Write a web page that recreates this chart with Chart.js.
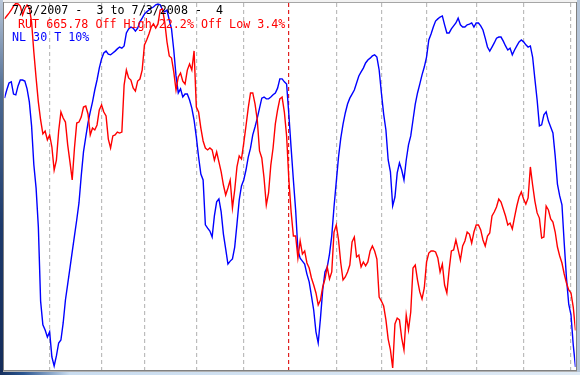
<!DOCTYPE html>
<html><head><meta charset="utf-8">
<script src="https://cdn.jsdelivr.net/npm/chart.js@4/dist/chart.umd.min.js"></script>
<style>
html,body{margin:0;padding:0;background:#fff;}
#wrap{position:relative;width:580px;height:375px;overflow:hidden;}
canvas{position:absolute;left:0;top:0;}
.lbl{position:absolute;font-family:"DejaVu Sans Mono",monospace;font-size:11.7px;line-height:13px;white-space:pre;}
</style></head><body>
<div id="wrap">
<canvas id="c" width="580" height="375"></canvas>
<div class="lbl" style="left:12px;top:4px;color:#000">7/3/2007 -  3 to 7/3/2008 -  4</div>
<div class="lbl" style="left:18px;top:17.5px;color:#ff0000">RUT 665.78 Off High 22.2% Off Low 3.4%</div>
<div class="lbl" style="left:12px;top:31px;color:#0000ff">NL 30 T 10%</div>
</div>
<script>
// trading-day index from 7/3/2007 (0) to 7/3/2008 (253)
const days = Array.from({length: 254}, (_, i) => i);
// first trading day of each month (Aug 2007 ... Jul 2008); Jan 2 2008 marks the new year
const monthStarts = [20, 43, 62, 85, 106, 126, 147, 167, 187, 209, 230, 251];
const yearStart = 126;

// Russell 2000 (RUT) daily close
const rut = [846.8,848.5,850.2,852.0,854.3,855.8,855.5,854.3,849.1,852.6,
854.9,853.2,845.0,827.6,812.5,798.5,788.1,780.0,781.7,776.5,
779.4,772.4,759.0,764.8,781.7,792.7,789.2,786.9,773.6,763.7,
753.2,771.8,786.3,786.9,789.8,795.6,796.2,791.6,779.4,783.4,
782.3,785.2,793.9,796.8,792.7,790.4,777.0,771.8,778.8,779.4,
781.1,780.5,781.1,808.4,817.1,812.5,811.3,806.7,804.9,810.7,
811.9,817.1,831.7,834.6,838.0,842.1,843.9,841.5,843.9,852.0,
852.6,845.0,833.4,825.3,824.1,816.0,805.5,813.1,815.4,810.7,
809.0,817.1,820.6,817.1,828.2,795.6,792.7,783.4,775.9,771.8,
770.7,771.8,770.7,764.8,769.5,763.7,757.9,750.3,744.5,748.6,
753.2,737.0,747.4,760.8,767.2,765.4,774.7,784.6,795.1,803.8,
803.8,797.4,788.1,770.1,766.0,754.4,738.7,745.7,761.9,771.8,
785.8,793.9,800.3,801.4,792.7,778.8,753.2,734.6,720.7,720.7,
707.9,717.8,710.2,712.0,705.0,702.1,696.3,692.2,687.6,680.6,
683.5,691.1,695.7,702.7,695.7,699.8,723.0,727.1,718.4,705.0,
695.1,696.9,699.8,703.8,717.2,720.1,708.5,709.6,702.7,705.6,
703.3,705.6,712.0,714.9,712.0,707.3,685.2,682.9,680.0,671.9,
660.8,654.5,643.97,669.6,673.0,671.9,661.4,654.5,674.8,666.1,
676.5,702.1,703.8,695.1,688.2,684.1,690.5,705.6,710.8,712.0,
712.0,711.4,707.9,699.8,704.4,692.2,687.6,700.9,712.0,712.6,
718.4,712.6,706.7,714.9,717.8,723.0,721.8,716.6,723.0,727.1,
727.1,724.2,718.4,714.9,720.7,722.4,732.3,734.6,737.5,742.2,
740.4,736.4,732.3,727.1,728.2,724.8,731.7,738.1,743.3,746.3,
742.2,739.2,742.8,760.8,750.3,741.0,734.1,731.1,719.5,720.1,
738.1,735.8,730.6,728.8,723.0,714.3,709.1,705.0,698.6,693.4,
689.3,687.6,679.4,665.78];

// NL 30 T 10% indicator
const nl = [73.4,75.6,77.5,77.8,74.5,74.3,76.7,78.3,78.3,78.0,
75.9,72.4,65.9,55.4,49.1,38.6,18.6,12.2,10.8,8.9,
10.3,3.5,1.1,3.8,7.3,8.1,12.7,18.9,23.2,27.5,
31.9,36.2,40.5,45.1,52.4,58.9,62.9,66.7,69.7,72.4,
75.6,78.3,81.5,84.0,85.6,86.1,85.3,85.1,85.6,86.1,
86.7,87.2,86.9,87.5,91.0,92.1,92.6,92.3,91.5,92.3,
94.0,95.0,96.1,96.7,97.2,97.7,98.0,98.6,98.8,98.6,
97.2,96.7,97.2,94.5,92.1,86.4,79.4,74.8,75.9,73.7,
74.5,74.5,72.9,70.7,67.5,62.9,57.5,52.9,51.3,39.2,
38.3,37.5,35.9,41.6,45.4,46.2,42.7,36.7,32.7,28.6,
29.4,30.0,33.2,39.4,45.9,49.7,51.3,54.0,57.5,59.9,
63.5,65.6,68.0,70.7,73.4,73.7,73.2,73.2,73.7,74.3,
74.8,76.1,78.6,78.6,77.8,77.2,68.9,59.9,51.3,43.2,
32.4,30.2,29.4,28.6,25.9,23.8,20.0,16.2,10.3,7.3,
14.0,21.6,26.5,27.8,31.3,36.2,44.0,50.8,57.5,62.6,
66.4,69.4,71.8,73.4,74.5,75.6,77.5,79.4,80.5,81.5,
82.9,83.7,84.2,84.8,85.1,84.5,81.0,74.8,69.1,64.8,
56.7,53.5,44.3,46.7,53.2,55.9,54.0,51.3,56.7,60.8,
63.2,67.5,71.8,74.8,77.2,79.7,81.8,84.5,89.1,90.7,
92.6,94.2,94.8,95.3,95.6,93.2,91.0,91.0,92.1,92.9,
93.7,95.0,93.2,92.6,92.6,93.2,93.4,93.7,92.6,93.7,
93.7,92.9,91.8,89.6,87.2,86.1,87.2,88.3,89.6,89.9,
89.9,88.8,87.5,86.4,86.9,85.1,86.4,87.5,88.6,89.1,
88.6,87.8,87.2,87.5,84.5,78.6,72.9,65.9,66.2,68.9,
69.7,67.2,65.6,64.0,57.8,50.2,47.0,44.6,34.3,24.8,
17.8,14.9,6.8,0.8];

const framePlugin = {
  id: 'frame',
  beforeDraw(chart) {
    const c = chart.ctx;
    c.save(); c.fillStyle = '#ffffff'; c.fillRect(0, 0, chart.width, chart.height); c.restore();
  },
  afterDraw(chart) {
    const c = chart.ctx, W = chart.width, H = chart.height;
    c.save();
    c.fillStyle = '#f2f2f2'; c.fillRect(0, 0, W, 2);
    c.fillStyle = '#a6a6a6'; c.fillRect(3, 2, W - 6, 1);
    const g = c.createLinearGradient(0, 0, 0, H);
    g.addColorStop(0, '#b8c6d8'); g.addColorStop(0.25, '#4d6a92');
    g.addColorStop(0.6, '#1d3a6c'); g.addColorStop(1, '#142c5a');
    c.fillStyle = g; c.fillRect(0, 0, 3, H);
    c.fillStyle = '#808080'; c.fillRect(3, 2, 1, 370);
    c.fillStyle = '#808080'; c.fillRect(576, 2, 1, 370);
    c.fillStyle = '#b4c4d8'; c.fillRect(577, 0, 3, H);
    c.fillStyle = '#808080'; c.fillRect(3, 370, 574, 1);
    c.fillStyle = '#b0b0b0'; c.fillRect(3, 371, 574, 1);
    const g2 = c.createLinearGradient(0, 0, W, 0);
    g2.addColorStop(0, '#16305e'); g2.addColorStop(0.04, '#2a5590');
    g2.addColorStop(0.12, '#c9dcef'); g2.addColorStop(1, '#dfeaf5');
    c.fillStyle = g2; c.fillRect(0, 372, W, 3);
    c.restore();
  }
};

new Chart(document.getElementById('c'), {
  type: 'line',
  data: {
    labels: days,
    datasets: [
      {label: 'RUT', data: rut, yAxisID: 'yRut', borderColor: '#ff0000', borderWidth: 1.4, pointRadius: 0, tension: 0},
      {label: 'NL 30 T 10%', data: nl, yAxisID: 'yNl', borderColor: '#0000ff', borderWidth: 1.4, pointRadius: 0, tension: 0}
    ]
  },
  options: {
    responsive: false, animation: false, devicePixelRatio: 1,
    layout: {padding: {left: 4.5, right: 4.5, top: 3, bottom: 5}, autoPadding: false},
    plugins: {legend: {display: false}, tooltip: {enabled: false}},
    scales: {
      x: {
        type: 'linear', min: 0, max: 253, offset: false,
        afterBuildTicks: s => { s.ticks = monthStarts.map(v => ({value: v})); },
        ticks: {display: false},
        grid: {drawTicks: false, drawOnChartArea: true, lineWidth: 1.2,
               color: ctx => (ctx.tick && ctx.tick.value === yearStart) ? '#e02020' : '#bcbcbc'},
        border: {display: false, dash: [4, 3]}
      },
      yRut: {type: 'linear', display: false, min: 642.83, max: 856.06},
      yNl: {type: 'linear', display: false, min: 0, max: 99.09}
    }
  },
  plugins: [framePlugin]
});
</script>
</body></html>
